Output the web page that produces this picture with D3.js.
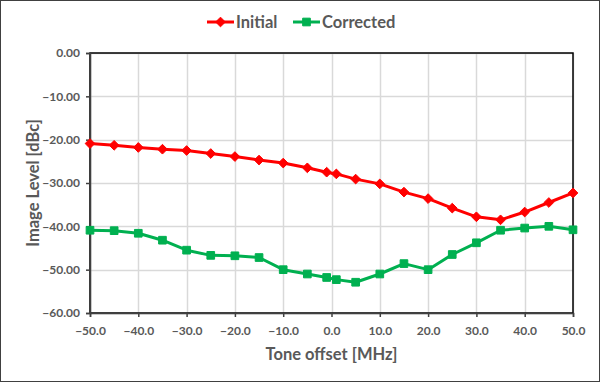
<!DOCTYPE html>
<html><head><meta charset="utf-8">
<script src="https://cdn.jsdelivr.net/npm/d3@7"></script>
<style>
body{margin:0;background:#fff;}
svg{display:block;font-family:Lato,"Open Sans",sans-serif;}
</style></head><body>
<svg id="c" width="600" height="382"></svg>
<script>
const offsets = [-50,-45,-40,-35,-30,-25,-20,-15,-10,-5,-1,1,5,10,15,20,25,30,35,40,45,50];
const initial = [-20.9,-21.3,-21.8,-22.2,-22.5,-23.2,-23.9,-24.7,-25.4,-26.5,-27.5,-27.9,-29.1,-30.2,-32.1,-33.6,-35.8,-37.8,-38.5,-36.7,-34.5,-32.3];
const corrected = [-40.9,-41.0,-41.6,-43.2,-45.5,-46.7,-46.8,-47.2,-50.0,-51.0,-51.8,-52.3,-52.9,-51.0,-48.6,-50.0,-46.5,-43.8,-40.9,-40.4,-40.0,-40.8];
const xTicks = [-50,-40,-30,-20,-10,0,10,20,30,40,50];
const yTicks = [0,-10,-20,-30,-40,-50,-60];
const seriesNames = ["Initial","Corrected"];
const seriesColors = ["#FF0000","#00B050"];

const svg = d3.select("#c");
const L=90,R=573,T=53,B=313;
const x = d3.scaleLinear().domain([-50,50]).range([L,R]);
const y = d3.scaleLinear().domain([-60,0]).range([B,T]);

svg.append("rect").attr("x",0.5).attr("y",0.5).attr("width",599).attr("height",381)
  .attr("fill","#fff").attr("stroke","#404040");

// gridlines
const g = svg.append("g");
g.selectAll(".hg").data(yTicks).join("line").attr("x1",L).attr("x2",R)
  .attr("y1",d=>Math.round(y(d))+0.5).attr("y2",d=>Math.round(y(d))+0.5).attr("stroke","#d9d9d9").attr("stroke-width",1.5);
g.selectAll(".vg").data(xTicks).join("line").attr("y1",T).attr("y2",B)
  .attr("x1",d=>Math.round(x(d))+0.5).attr("x2",d=>Math.round(x(d))+0.5).attr("stroke","#d9d9d9").attr("stroke-width",1.5);

// plot border
svg.append("rect").attr("x",L).attr("y",T).attr("width",R-L).attr("height",B-T)
  .attr("fill","none").attr("stroke","#000").attr("stroke-width",1.5);

// axes
const ya = d3.axisLeft(y).tickValues(yTicks).tickFormat(d3.format(".2f")).tickSize(4).tickPadding(6);
const xa = d3.axisBottom(x).tickValues(xTicks).tickFormat(d3.format(".1f")).tickSize(4).tickPadding(9);
const gy = svg.append("g").attr("transform",`translate(${L},0)`).call(ya);
const gx = svg.append("g").attr("transform",`translate(0,${B})`).call(xa);
[gy,gx].forEach(a=>{
  a.select(".domain").attr("stroke","#404040").attr("stroke-width",1.5);
  a.selectAll(".tick line").attr("stroke","#404040").attr("stroke-width",1.5);
  a.selectAll(".tick text").attr("fill","#595959").attr("font-size",12).attr("font-weight","bold")
   .attr("font-family","Lato, 'Open Sans', sans-serif");
});

// lines
const data = [initial, corrected];
data.forEach((vals,i)=>{
  const pts = offsets.map((o,j)=>[o,vals[j]]);
  svg.append("path").datum(pts).attr("fill","none").attr("stroke",seriesColors[i])
    .attr("stroke-width",3).attr("stroke-linejoin","round")
    .attr("d",d3.line().x(d=>x(d[0])).y(d=>y(d[1])));
  const sym = i===0 ? d3.symbol().type(d3.symbolDiamond2).size(60) : d3.symbol().type(d3.symbolSquare2).size(75);
  svg.append("g").selectAll("path").data(pts).join("path")
    .attr("transform",d=>`translate(${x(d[0])},${y(d[1])})`)
    .attr("d",sym).attr("fill",seriesColors[i]).attr("stroke",seriesColors[i]).attr("stroke-width",1);
});

// axis titles
svg.append("text").attr("x",(L+R)/2).attr("y",360).attr("text-anchor","middle")
  .attr("font-size",16.5).attr("font-weight","bold").attr("fill","#595959").text("Tone offset [MHz]");
svg.append("text").attr("transform",`translate(33,${(T+B)/2}) rotate(-90)`).attr("text-anchor","middle")
  .attr("dy","0.35em").attr("font-size",16.5).attr("font-weight","bold").attr("fill","#595959").text("Image Level [dBc]");

// legend
const legX = [207, 293];
seriesNames.forEach((n,i)=>{
  const lg = svg.append("g").attr("transform",`translate(${legX[i]},22)`);
  lg.append("line").attr("x1",0).attr("x2",27).attr("stroke",seriesColors[i]).attr("stroke-width",3);
  const sym = i===0 ? d3.symbol().type(d3.symbolDiamond2).size(60) : d3.symbol().type(d3.symbolSquare2).size(75);
  lg.append("path").attr("transform","translate(13.5,0)").attr("d",sym).attr("fill",seriesColors[i]).attr("stroke",seriesColors[i]);
  lg.append("text").attr("x",29).attr("dy","0.35em").attr("font-size",16.5).attr("font-weight","bold")
    .attr("fill","#595959").text(n);
});
</script></body></html>
